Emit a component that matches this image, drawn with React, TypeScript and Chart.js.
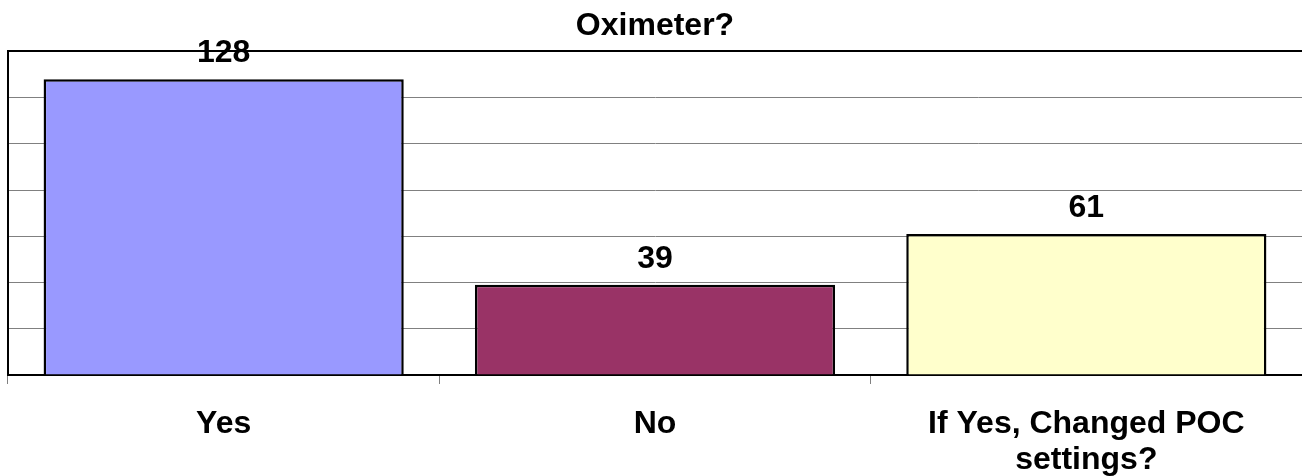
import React, { useEffect, useRef } from "react";
import { Chart, registerables } from "chart.js";

Chart.register(...registerables);

const TITLE = "Oximeter?";
const CATEGORIES: (string | string[])[] = ["Yes", "No", ["If Yes, Changed POC", "settings?"]];
const VALUES = [128, 39, 61];
const BAR_COLORS = ["#9999FF", "#993366", "#FFFFCC"];
const Y_MIN = 0;
const Y_MAX = 140;
const Y_STEP = 20;

const FONT_FAMILY = "'Liberation Sans', Arial, Helvetica, sans-serif";

const valueLabels = {
  id: "valueLabels",
  afterDatasetsDraw(chart: any) {
    const ctx = chart.ctx;
    const meta = chart.getDatasetMeta(0);
    const data = chart.data.datasets[0].data;
    ctx.save();
    ctx.font = `bold 32px ${FONT_FAMILY}`;
    ctx.fillStyle = "#000";
    ctx.textAlign = "center";
    ctx.textBaseline = "alphabetic";
    meta.data.forEach((el: any, i: number) => {
      ctx.fillText(String(data[i]), el.x, el.y - 17);
    });
    ctx.restore();
  },
};

export default function App() {
  const ref = useRef<HTMLCanvasElement | null>(null);
  useEffect(() => {
    if (!ref.current) return;
    const chart = new Chart(ref.current, {
      type: "bar",
      data: {
        labels: CATEGORIES,
        datasets: [
          {
            data: VALUES,
            backgroundColor: BAR_COLORS,
            borderColor: "#000",
            borderWidth: 2.5,
            categoryPercentage: 1,
            barPercentage: 0.835,
          },
        ],
      },
      options: {
        animation: false,
        responsive: true,
        maintainAspectRatio: false,
        layout: { padding: { left: 8, right: 0, top: 0, bottom: 0 } },
        plugins: {
          legend: { display: false },
          tooltip: { enabled: false },
          title: {
            display: true,
            text: TITLE,
            color: "#000",
            font: { family: FONT_FAMILY, size: 32, weight: "bold", lineHeight: 1.2 },
            padding: { top: 7, bottom: 6 },
          },
        },
        scales: {
          x: {
            afterFit: (scale: any) => {
              scale.height = 101;
            },
            grid: {
              display: true,
              offset: true,
              drawOnChartArea: false,
              drawTicks: true,
              tickLength: 9,
              color: "#808080",
              lineWidth: 1,
            },
            border: { display: true, color: "#000", width: 2 },
            ticks: {
              color: "#000",
              padding: 23,
              maxRotation: 0,
              autoSkip: false,
              font: { family: FONT_FAMILY, size: 32, weight: "bold", lineHeight: 1.1 },
            },
          },
          y: {
            min: Y_MIN,
            max: Y_MAX,
            ticks: { display: false, stepSize: Y_STEP },
            grid: {
              drawTicks: false,
              color: (c: any) => (c.tick && c.tick.value === Y_MAX ? "#000" : "#808080"),
              lineWidth: (c: any) => (c.tick && c.tick.value === Y_MAX ? 2 : 1),
            },
            border: { display: true, color: "#000", width: 2 },
          },
        },
      },
      plugins: [valueLabels],
    });
    return () => chart.destroy();
  }, []);
  return (
    <div style={{ position: "absolute", left: 0, top: 0, width: 1302, height: 476, background: "#fff" }}>
      <canvas ref={ref} />
    </div>
  );
}
